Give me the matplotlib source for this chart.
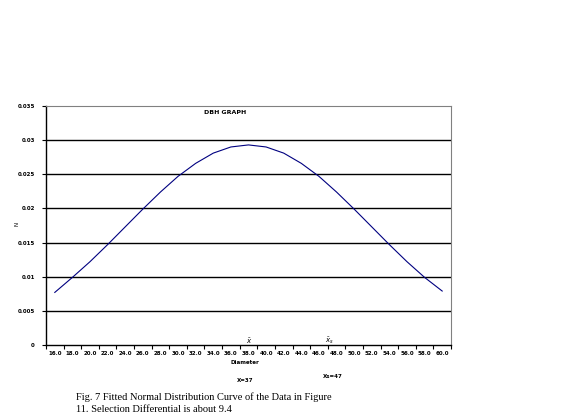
import numpy as np
import matplotlib
matplotlib.use('Agg')
import matplotlib.pyplot as plt

# diameter classes and fitted normal density
diameters = [16.0, 18.0, 20.0, 22.0, 24.0, 26.0, 28.0, 30.0, 32.0, 34.0, 36.0, 38.0,
             40.0, 42.0, 44.0, 46.0, 48.0, 50.0, 52.0, 54.0, 56.0, 58.0, 60.0]
density = [0.0077, 0.0099, 0.0122, 0.0147, 0.0173, 0.0199, 0.0224, 0.0247, 0.0266,
           0.0281, 0.0290, 0.0293, 0.0290, 0.0281, 0.0266, 0.0247, 0.0224, 0.0199,
           0.0173, 0.0147, 0.0122, 0.0099, 0.0079]
y_ticks = [0, 0.005, 0.01, 0.015, 0.02, 0.025, 0.03, 0.035]
y_labels = ['0', '0.005', '0.01', '0.015', '0.02', '0.025', '0.03', '0.035']

fig = plt.figure(figsize=(5.67, 4.16), dpi=100)
ax = fig.add_axes([0.0811, 0.1707, 0.7143, 0.5745])

x = np.arange(len(diameters))
ax.plot(x, density, color='#000080', lw=0.8)

ax.set_xlim(-0.5, len(diameters) - 0.5)
ax.set_ylim(0, 0.035)
for v in y_ticks[1:-1]:
    ax.axhline(v, color='black', lw=1.0, zorder=0)

ax.set_yticks(y_ticks)
ax.set_yticklabels(y_labels, fontsize=4, fontweight='bold')
ax.set_xticks(x)
ax.set_xticklabels(['%.1f' % d for d in diameters], fontsize=4, fontweight='bold')
ax.set_xticks(np.arange(len(diameters) + 1) - 0.5, minor=True)
ax.tick_params(axis='x', which='major', length=0, pad=4)
ax.tick_params(axis='x', which='minor', length=3, width=0.8, direction='out')
ax.tick_params(axis='y', length=3, width=0.8, pad=5)

ax.spines['top'].set_color('#808080')
ax.spines['right'].set_color('#808080')
ax.spines['left'].set_linewidth(1.0)
ax.spines['bottom'].set_linewidth(1.0)

ax.text(0.39, 0.985, 'DBH GRAPH', transform=ax.transAxes, fontsize=4.5,
        fontweight='bold', va='top', ha='left')
fig.text(17 / 567, 1 - 224 / 416, 'N', fontsize=4, rotation=90, ha='center', va='center')

# small markers for the means under the axis
fig.text(249 / 567, 1 - 341 / 416, r'$\bar{x}$', fontsize=5, ha='center', va='center')
fig.text(329 / 567, 1 - 341 / 416, r'$\bar{x}_s$', fontsize=5, ha='center', va='center')
fig.text(245 / 567, 1 - 363 / 416, 'Diameter', fontsize=4, fontweight='bold', ha='center', va='center')
fig.text(245 / 567, 1 - 381 / 416, 'X=37', fontsize=4, fontweight='bold', ha='center', va='center')
fig.text(333 / 567, 1 - 377 / 416, 'Xs=47', fontsize=4, fontweight='bold', ha='center', va='center')

fig.text(76 / 567, 1 - 397 / 416, 'Fig. 7 Fitted Normal Distribution Curve of the Data in Figure',
         fontsize=7.5, family='Liberation Serif', va='center')
fig.text(76 / 567, 1 - 409 / 416, '11. Selection Differential is about 9.4',
         fontsize=7.5, family='Liberation Serif', va='center')

fig.savefig('out.png', dpi=100)
